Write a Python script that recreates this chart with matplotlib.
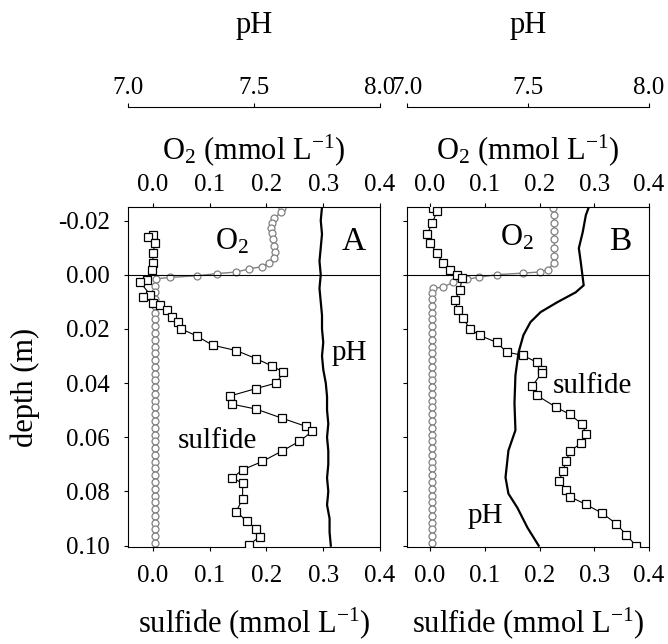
import matplotlib
matplotlib.use("Agg")
import matplotlib.pyplot as plt

plt.rcParams['font.family'] = 'serif'
plt.rcParams['font.serif'] = ['Liberation Serif', 'DejaVu Serif']
plt.rcParams['mathtext.fontset'] = 'custom'
plt.rcParams['mathtext.rm'] = 'Liberation Serif'
plt.rcParams['mathtext.it'] = 'Liberation Serif:italic'
plt.rcParams['axes.unicode_minus'] = False

# ---- panel A ----
a_sulf_depth = [-0.0148, -0.014, -0.0118, -0.0081, -0.0044, -0.0018, 0.0018, 0.0026, 0.0074, 0.0081,
                0.0103, 0.0111, 0.0129, 0.0155, 0.0173, 0.020, 0.0226, 0.026, 0.028, 0.031,
                0.0337, 0.036, 0.040, 0.042, 0.0448, 0.0478, 0.0496, 0.053, 0.056, 0.0578,
                0.0615, 0.065, 0.0689, 0.072, 0.075, 0.077, 0.0826, 0.0874, 0.091, 0.0937,
                0.0967, 0.0996]
a_sulf = [0.000, -0.009, 0.004, 0.000, 0.000, -0.002, -0.011, -0.023, -0.005, -0.018,
          0.000, 0.012, 0.025, 0.033, 0.044, 0.050, 0.077, 0.105, 0.147, 0.182,
          0.210, 0.230, 0.217, 0.182, 0.135, 0.140, 0.182, 0.228, 0.270, 0.281,
          0.258, 0.228, 0.193, 0.158, 0.140, 0.158, 0.158, 0.147, 0.165, 0.182,
          0.188, 0.170]

a_o2_depth = [-0.0248, -0.023, -0.021, -0.019, -0.0172, -0.0155, -0.013, -0.0107, -0.0085, -0.0063,
              -0.0044, -0.003, -0.0022, -0.001, -0.0004, 0.0004, 0.001, 0.0015, 0.004, 0.0065,
              0.009, 0.0115, 0.014, 0.0165, 0.019, 0.0215, 0.024, 0.0265, 0.029, 0.0315,
              0.034, 0.0365, 0.039, 0.0415, 0.044, 0.0465, 0.049, 0.0515, 0.054, 0.0565,
              0.059, 0.0615, 0.064, 0.0665, 0.069, 0.0715, 0.074, 0.0765, 0.079, 0.0815,
              0.084, 0.0865, 0.089, 0.0915, 0.094, 0.0965, 0.099]
a_o2 = [0.228, 0.226, 0.214, 0.210, 0.208, 0.209, 0.212, 0.214, 0.215, 0.214,
        0.205, 0.193, 0.170, 0.147, 0.112, 0.077, 0.030, 0.006, 0.004, 0.004,
        0.004, 0.004, 0.004, 0.004, 0.004, 0.004, 0.004, 0.004, 0.004, 0.004,
        0.004, 0.004, 0.004, 0.004, 0.004, 0.004, 0.004, 0.004, 0.004, 0.004,
        0.004, 0.004, 0.004, 0.004, 0.004, 0.004, 0.004, 0.004, 0.004, 0.004,
        0.004, 0.004, 0.004, 0.004, 0.004, 0.004, 0.004]

a_ph_depth = [-0.025, -0.02, -0.015, -0.01, -0.005, 0.0, 0.005, 0.01, 0.015, 0.02,
              0.025, 0.03, 0.035, 0.04, 0.045, 0.05, 0.055, 0.06, 0.065, 0.07,
              0.075, 0.08, 0.085, 0.09, 0.095, 0.10]
a_ph = [7.77, 7.765, 7.77, 7.765, 7.76, 7.765, 7.76, 7.765, 7.77, 7.77,
        7.775, 7.77, 7.775, 7.785, 7.79, 7.79, 7.795, 7.79, 7.795, 7.795,
        7.79, 7.795, 7.79, 7.80, 7.80, 7.805]

# ---- panel B ----
b_sulf_depth = [-0.0245, -0.0236, -0.019, -0.015, -0.0116, -0.0079, -0.0042, -0.0017, 0.0002, 0.0013,
                0.0057, 0.0094, 0.0131, 0.016, 0.020, 0.0224, 0.025, 0.0286, 0.0297, 0.0323,
                0.0352, 0.0363, 0.041, 0.0445, 0.049, 0.0515, 0.0552, 0.0589, 0.0622, 0.0652,
                0.0689, 0.0726, 0.0763, 0.0793, 0.0819, 0.0848, 0.0881, 0.0919, 0.0959, 0.100]
b_sulf = [0.005, 0.013, 0.004, -0.005, 0.000, 0.013, 0.024, 0.036, 0.049, 0.058,
          0.055, 0.045, 0.051, 0.060, 0.073, 0.091, 0.122, 0.140, 0.169, 0.195,
          0.205, 0.204, 0.187, 0.195, 0.231, 0.255, 0.278, 0.285, 0.276, 0.255,
          0.249, 0.242, 0.236, 0.249, 0.255, 0.285, 0.315, 0.340, 0.358, 0.376]

b_o2_depth = [-0.0248, -0.022, -0.019, -0.016, -0.013, -0.010, -0.007, -0.0044, -0.0019, -0.001,
              -0.0006, 0.0, 0.0009, 0.0017, 0.0028, 0.0046, 0.005, 0.0068, 0.009, 0.0115,
              0.014, 0.0165, 0.019, 0.0215, 0.024, 0.0265, 0.029, 0.0315, 0.034, 0.0365,
              0.039, 0.0415, 0.044, 0.0465, 0.049, 0.0515, 0.054, 0.0565, 0.059, 0.0615,
              0.064, 0.0665, 0.069, 0.0715, 0.074, 0.0765, 0.079, 0.0815, 0.084, 0.0865,
              0.089, 0.0915, 0.094, 0.0965, 0.099]
b_o2 = [0.224, 0.226, 0.227, 0.227, 0.227, 0.227, 0.227, 0.227, 0.215, 0.200,
        0.170, 0.122, 0.090, 0.067, 0.042, 0.024, 0.005, 0.004, 0.003, 0.003,
        0.003, 0.003, 0.003, 0.003, 0.003, 0.003, 0.003, 0.003, 0.003, 0.003,
        0.003, 0.003, 0.003, 0.003, 0.003, 0.003, 0.003, 0.003, 0.003, 0.003,
        0.003, 0.003, 0.003, 0.003, 0.003, 0.003, 0.003, 0.003, 0.003, 0.003,
        0.003, 0.003, 0.003, 0.003, 0.003]

b_ph_depth = [-0.0249, -0.022, -0.0157, -0.0098, -0.0046, 0.0039, 0.0065, 0.0101, 0.0138, 0.0175,
              0.0223, 0.0286, 0.0371, 0.0474, 0.0574, 0.0649, 0.0748, 0.0808, 0.0860, 0.0934,
              0.100]
b_ph = [7.751, 7.739, 7.726, 7.710, 7.718, 7.730, 7.697, 7.622, 7.552, 7.510,
        7.481, 7.461, 7.448, 7.444, 7.448, 7.419, 7.407, 7.419, 7.456, 7.498,
        7.544]

conc_ticks = [0.0, 0.1, 0.2, 0.3, 0.4]
ph_ticks = [7.0, 7.5, 8.0]
depth_ticks = [-0.02, 0.0, 0.02, 0.04, 0.06, 0.08, 0.10]

fig = plt.figure(figsize=(6.68, 6.44), dpi=100)

panels = [
    dict(rect=[0.1916, 0.1506, 0.3772, 0.528], xmin=-0.044, letter='A',
         sd=a_sulf_depth, s=a_sulf, od=a_o2_depth, o=a_o2, pd=a_ph_depth, p=a_ph,
         o2_txt=(0.109, -0.0092), let_txt=(0.333, -0.0092),
         ph_txt=(0.314, 0.0314), sulf_txt=(0.044, 0.0638)),
    dict(rect=[0.6093, 0.1506, 0.3623, 0.528], xmin=-0.042, letter='B',
         sd=b_sulf_depth, s=b_sulf, od=b_o2_depth, o=b_o2, pd=b_ph_depth, p=b_ph,
         o2_txt=(0.127, -0.0109), let_txt=(0.327, -0.009),
         ph_txt=(0.069, 0.0917), sulf_txt=(0.224, 0.0437)),
]

for i, pn in enumerate(panels):
    ax = fig.add_axes(pn['rect'])
    ax.set_xlim(pn['xmin'], 0.4)
    ax.set_ylim(0.1005, -0.025)
    ax.set_xticks(conc_ticks)
    ax.set_xticklabels(['%.1f' % t for t in conc_ticks])
    ax.set_yticks(depth_ticks)
    ax.set_yticklabels(['%.2f' % t for t in depth_ticks])
    ax.tick_params(direction='out', length=3, width=0.8, labelsize=18, pad=7,
                   right=False, top=False)
    ax.tick_params(axis='x', pad=10)
    ax.tick_params(axis='y', pad=10)
    for sp in ax.spines.values():
        sp.set_linewidth(0.8)
    ax.axhline(0.0, color='black', lw=0.8, zorder=1)

    if i == 0:
        ax.set_ylabel('depth (m)', fontsize=22, va='center')
        ax.yaxis.set_label_coords(-0.409, 0.47)
    else:
        ax.tick_params(labelleft=False)

    ax.set_xlabel('sulfide (mmol L$^{-1}$)', fontsize=22, va='center')
    ax.xaxis.set_label_coords(0.5, -0.225)

    # sulfide profile
    ax.plot(pn['s'], pn['sd'], color='black', lw=0.8, marker='s', ms=6,
            mfc='white', mec='black', mew=0.9, zorder=4)

    # O2 axis on top
    ax_o = ax.twiny()
    ax_o.set_xlim(pn['xmin'], 0.4)
    ax_o.set_xticks(conc_ticks)
    ax_o.set_xticklabels(['%.1f' % t for t in conc_ticks])
    ax_o.tick_params(direction='out', length=3, width=0.8, labelsize=18, pad=5)
    ax_o.set_xlabel('O$_2$ (mmol L$^{-1}$)', fontsize=22, va='center')
    ax_o.xaxis.set_label_coords(0.5, 1.168)
    for sp in ax_o.spines.values():
        sp.set_visible(False)
    ax_o.plot(pn['o'], pn['od'], color='0.5', lw=1.0, marker='o', ms=5,
              mfc='white', mec='0.5', mew=0.9, zorder=3)

    # pH axis, offset above
    ax_p = ax.twiny()
    ax_p.set_xlim(7.0, 8.0)
    ax_p.set_xticks(ph_ticks)
    ax_p.set_xticklabels(['%.1f' % t for t in ph_ticks])
    ax_p.tick_params(direction='out', length=3, width=0.8, labelsize=18, pad=3)
    for side in ['left', 'right', 'bottom']:
        ax_p.spines[side].set_visible(False)
    ax_p.spines['top'].set_position(('outward', 72))
    ax_p.spines['top'].set_linewidth(0.8)
    ax_p.set_xlabel('pH', fontsize=22, va='center')
    ax_p.xaxis.set_label_coords(0.5, 1.535)
    ax_p.plot(pn['p'], pn['pd'], color='black', lw=1.6, zorder=2)

    # in-panel labels
    ax.text(pn['o2_txt'][0], pn['o2_txt'][1], 'O$_2$', fontsize=22, va='baseline', zorder=6)
    ax.text(pn['let_txt'][0], pn['let_txt'][1], pn['letter'], fontsize=24, va='baseline', zorder=6)
    ax.text(pn['ph_txt'][0], pn['ph_txt'][1], 'pH', fontsize=21, va='baseline', zorder=6)
    ax.text(pn['sulf_txt'][0], pn['sulf_txt'][1], 'sulfide', fontsize=21, va='baseline', zorder=6)
    ax.set_zorder(ax_p.get_zorder() + 1)
    ax.patch.set_visible(False)

fig.savefig('out.png', dpi=100)
